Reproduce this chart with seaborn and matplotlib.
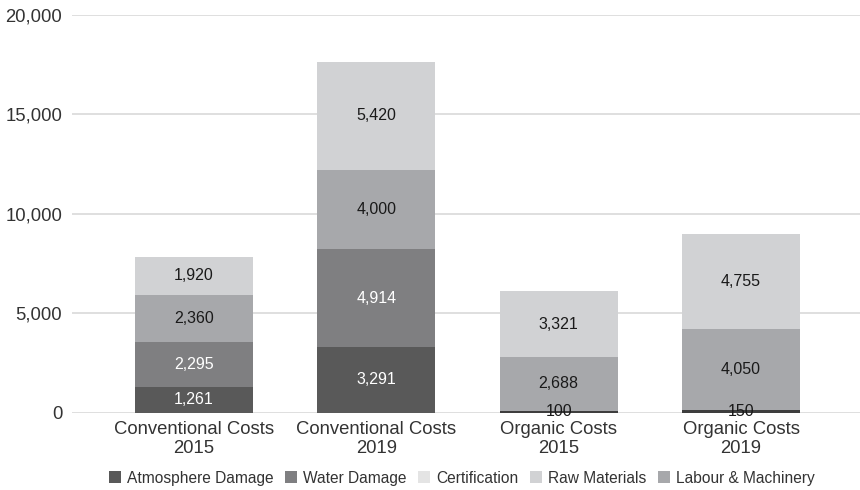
import matplotlib
matplotlib.use("Agg")
import matplotlib.pyplot as plt
from matplotlib.patches import Patch
import seaborn as sns
import pandas as pd
import numpy as np

categories = ["Conventional Costs\n2015", "Conventional Costs\n2019",
              "Organic Costs\n2015", "Organic Costs\n2019"]
atmosphere = [1261, 3291, 0, 0]
water = [2295, 4914, 0, 0]
certification = [0, 0, 100, 150]
labour = [2360, 4000, 2688, 4050]
raw_materials = [1920, 5420, 3321, 4755]
y_ticks = [0, 5000, 10000, 15000, 20000]

# stacking order bottom -> top
stack = [
    ("Atmosphere Damage", atmosphere, "#595959", "white"),
    ("Water Damage", water, "#7f7f81", "white"),
    ("Certification", certification, "#3e3e3e", "black"),
    ("Labour & Machinery", labour, "#a7a8ab", "black"),
    ("Raw Materials", raw_materials, "#d1d2d4", "black"),
]
legend_order = [("Atmosphere Damage", "#595959"), ("Water Damage", "#7f7f81"),
                ("Certification", "#e4e4e4"), ("Raw Materials", "#d1d2d4"),
                ("Labour & Machinery", "#a7a8ab")]

sns.set_theme(style="white")
plt.rcParams["font.family"] = ["Liberation Sans", "DejaVu Sans"]

fig = plt.figure(figsize=(8.6, 4.9), dpi=100)
ax = fig.add_axes([72 / 860, 1 - 412.5 / 490, 1 - 72 / 860, (412.5 - 14.7) / 490])

cum = np.zeros(len(categories))
cums = []
for name, vals, col, tcol in stack:
    bottom = cum.copy()
    cum = cum + np.array(vals)
    cums.append((name, bottom, cum.copy(), vals, col, tcol))

width = 0.647
for name, bottom, top, vals, col, tcol in reversed(cums):
    df = pd.DataFrame({"cat": categories, "val": top})
    sns.barplot(data=df, x="cat", y="val", order=categories, color=col,
                saturation=1, width=width, ax=ax, linewidth=0, zorder=3)

for name, bottom, top, vals, col, tcol in cums:
    for i, v in enumerate(vals):
        if v > 0:
            ax.text(i, bottom[i] + v / 2, f"{v:,}", ha="center", va="center",
                    fontsize=11.5, color=tcol if tcol == "white" else "#1a1a1a", zorder=5)

ax.set_ylim(0, 20000)
ax.set_xlim(-0.668, 3 + 119 / 182.5)
ax.set_yticks(y_ticks)
ax.set_yticklabels([f"{t:,}" for t in y_ticks])
ax.yaxis.grid(True, color="#d9d9d9", linewidth=1.2, zorder=0)
ax.set_axisbelow(True)
for s in ax.spines.values():
    s.set_visible(False)
ax.set_xlabel("")
ax.set_ylabel("")
ax.tick_params(axis="y", length=0, pad=7, labelsize=13.3, labelcolor="#333333")
ax.tick_params(axis="x", length=0, pad=6, labelsize=13.3, labelcolor="#333333")
for lab in ax.get_xticklabels():
    lab.set_linespacing(1.2)

handles = [Patch(facecolor=c, edgecolor="none", label=n) for n, c in legend_order]
fig.legend(handles=handles, loc="center", bbox_to_anchor=(462 / 860, 1 - 478 / 490),
           ncol=5, frameon=False, fontsize=11.2, handlelength=0.75, handleheight=0.75,
           handletextpad=0.4, columnspacing=0.75, labelcolor="#333333")

fig.savefig("out.png", dpi=100)
